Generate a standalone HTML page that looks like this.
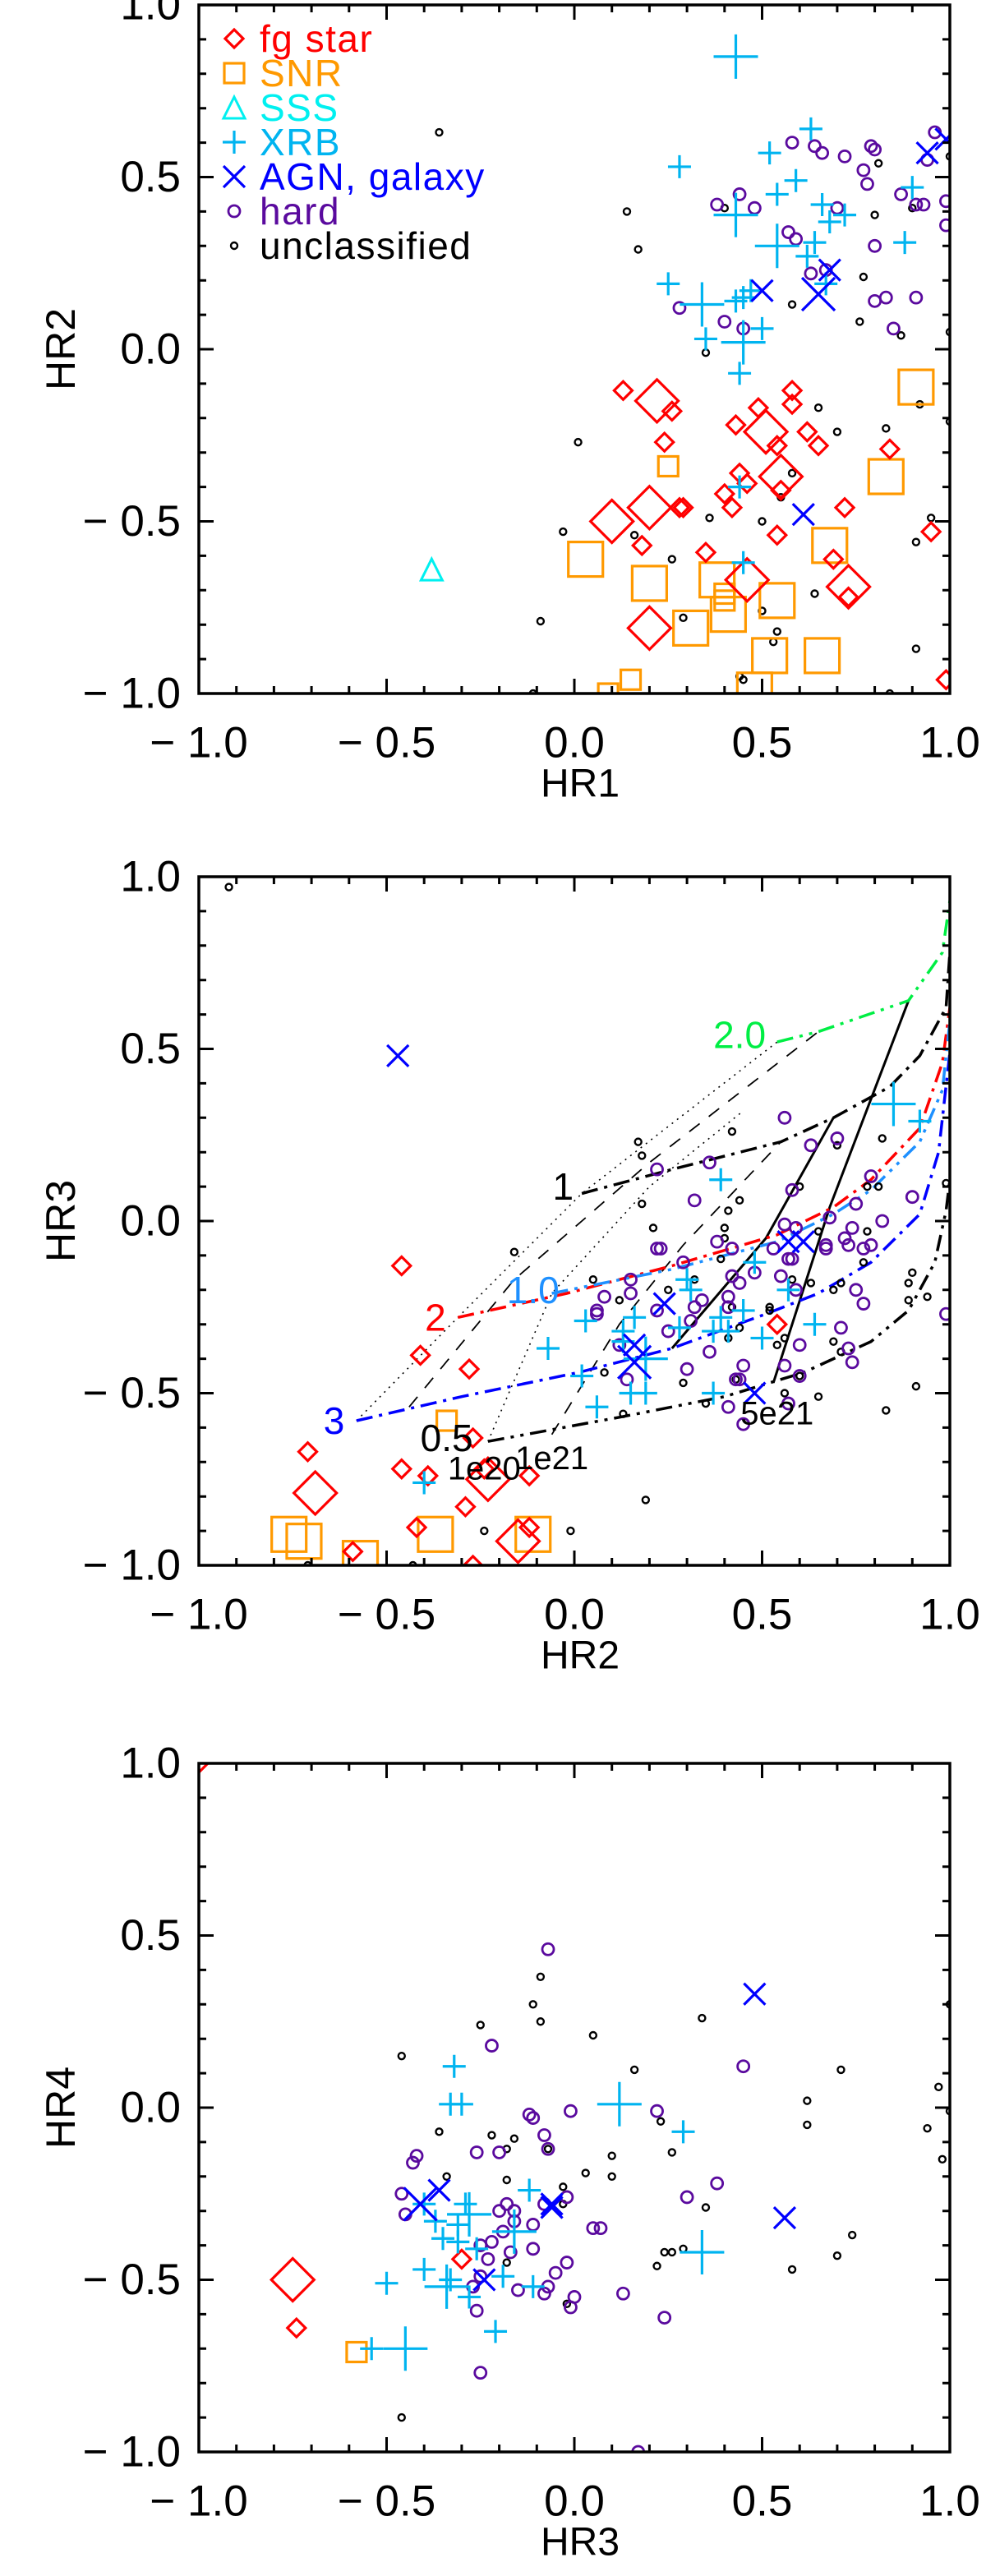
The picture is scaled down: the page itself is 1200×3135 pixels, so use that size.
<!DOCTYPE html>
<html><head><meta charset="utf-8"><title>Hardness ratio diagrams</title>
<style>
html,body{margin:0;padding:0;background:#fff;}
svg{display:block;}
text{font-family:"Liberation Sans",sans-serif;}
</style></head>
<body>
<svg id="fig" width="1200" height="3135" viewBox="0 0 1200 3135" xmlns="http://www.w3.org/2000/svg"></svg>
<script>
// ---------- Panel 1: HR1 vs HR2 ----------
const p1_fg_x=[0.13,0.22,0.26,0.24,0.43,0.49,0.51,0.58,0.58,0.54,0.62,0.65,0.84,0.55,0.44,0.46,0.40,0.55,0.42,0.20,0.28,0.29,0.10,0.72,0.54,0.18,0.35,0.46,0.69,0.73,0.73,0.20,0.95,0.99];
const p1_fg_y=[-0.12,-0.15,-0.18,-0.27,-0.22,-0.17,-0.24,-0.12,-0.16,-0.28,-0.24,-0.28,-0.29,-0.37,-0.36,-0.39,-0.42,-0.41,-0.46,-0.46,-0.46,-0.46,-0.50,-0.46,-0.54,-0.57,-0.59,-0.67,-0.61,-0.69,-0.72,-0.81,-0.53,-0.96];
const p1_fg_big=[0,1,0,0,0,0,1,0,0,0,0,0,0,1,0,0,0,0,0,1,0,0,1,0,0,0,0,1,0,1,0,1,0,0];
const p1_snr_x=[0.91,0.83,0.25,0.03,0.20,0.38,0.40,0.40,0.41,0.31,0.54,0.68,0.52,0.66,0.15,0.09,0.48];
const p1_snr_y=[-0.11,-0.37,-0.34,-0.61,-0.68,-0.67,-0.71,-0.73,-0.77,-0.81,-0.73,-0.57,-0.89,-0.89,-0.96,-1.0,-0.99];
const p1_snr_big=[1,1,0,1,1,1,0,0,1,1,1,1,1,1,0,0,1];
const p1_sss_x=[-0.38];
const p1_sss_y=[-0.64];
const p1_xrb_x=[0.43,0.28,0.63,0.52,0.59,0.54,0.43,0.66,0.68,0.72,0.90,0.88,0.54,0.64,0.62,0.67,0.25,0.34,0.43,0.45,0.47,0.50,0.35,0.45,0.44,0.44,0.45];
const p1_xrb_y=[0.85,0.53,0.64,0.57,0.49,0.45,0.39,0.42,0.37,0.39,0.47,0.31,0.30,0.31,0.27,0.19,0.19,0.13,0.14,0.15,0.17,0.06,0.03,0.02,-0.07,-0.40,-0.62];
const p1_xrb_big=[1,0,0,0,0,0,1,0,0,0,0,0,1,0,0,0,0,1,0,0,0,0,0,1,0,0,0];
const p1_agn_x=[0.50,0.68,0.65,0.94,0.99,0.61];
const p1_agn_y=[0.17,0.23,0.16,0.57,0.61,-0.48];
const p1_agn_big=[0,0,1,0,0,0];
const p1_hard_x=[0.38,0.44,0.48,0.58,0.64,0.66,0.72,0.79,0.80,0.77,0.78,0.87,0.91,0.93,0.96,0.94,0.99,0.99,0.70,0.57,0.59,0.80,0.63,0.67,0.80,0.83,0.91,0.28,0.40,0.45,0.85];
const p1_hard_y=[0.42,0.45,0.41,0.60,0.59,0.57,0.56,0.59,0.58,0.52,0.48,0.45,0.42,0.42,0.63,0.55,0.43,0.36,0.41,0.34,0.32,0.30,0.22,0.23,0.14,0.15,0.15,0.12,0.08,0.06,0.06];
const p1_unc_x=[-0.36,0.14,0.17,0.40,0.58,0.77,0.76,0.87,0.80,0.81,0.90,1.0,1.0,0.35,0.01,0.65,0.70,0.83,0.92,1.0,0.58,0.55,0.36,0.50,-0.03,0.16,0.26,0.91,0.95,0.64,0.50,0.29,-0.09,0.54,0.53,0.91,0.44,0.45,-0.11,0.84];
const p1_unc_y=[0.63,0.40,0.29,0.41,0.13,0.21,0.08,0.04,0.39,0.54,0.41,0.56,0.05,-0.01,-0.27,-0.17,-0.24,-0.23,-0.16,-0.21,-0.36,-0.43,-0.49,-0.50,-0.53,-0.54,-0.61,-0.56,-0.49,-0.71,-0.76,-0.78,-0.79,-0.82,-0.85,-0.87,-0.95,-0.96,-1.0,-1.0];

// ---------- Panel 2: HR2 vs HR3 ----------
const p2_fg_x=[-0.46,-0.41,-0.28,-0.71,-0.69,-0.46,-0.39,-0.27,-0.24,-0.23,-0.12,-0.29,-0.42,-0.12,-0.15,-0.59,-0.27,0.54];
const p2_fg_y=[-0.13,-0.39,-0.43,-0.67,-0.79,-0.72,-0.74,-0.63,-0.72,-0.75,-0.74,-0.83,-0.89,-0.89,-0.93,-0.96,-1.0,-0.30];
const p2_fg_big=[0,0,0,0,1,0,0,0,0,1,0,0,0,0,1,0,0,0];
const p2_snr_x=[-0.34,-0.76,-0.72,-0.57,-0.37,-0.11];
const p2_snr_y=[-0.58,-0.91,-0.93,-0.98,-0.91,-0.91];
const p2_snr_big=[0,1,1,1,1,1];
const p2_xrb_x=[0.85,0.92,0.39,0.48,0.30,0.31,0.57,0.03,0.16,0.13,0.39,0.45,0.41,0.37,0.28,0.50,0.64,-0.07,0.13,0.19,0.02,0.15,0.19,0.06,0.37,-0.40];
const p2_xrb_y=[0.34,0.29,0.12,-0.12,-0.17,-0.20,-0.20,-0.29,-0.28,-0.32,-0.28,-0.26,-0.32,-0.32,-0.31,-0.34,-0.30,-0.37,-0.35,-0.40,-0.45,-0.50,-0.50,-0.54,-0.50,-0.76];
const p2_xrb_big=[1,0,0,0,0,0,0,0,0,0,0,0,0,0,0,0,0,0,0,1,0,0,0,0,0,0];
const p2_agn_x=[-0.47,0.24,0.16,0.16,0.57,0.61,0.48];
const p2_agn_y=[0.48,-0.24,-0.36,-0.41,-0.06,-0.06,-0.50];
const p2_agn_big=[0,0,0,1,0,0,0];
const p2_hard_x=[0.22,0.36,0.56,0.63,0.70,0.32,0.58,0.68,0.75,0.79,0.90,0.82,0.74,0.56,0.59,0.38,0.42,0.22,0.23,0.53,0.67,0.67,0.72,0.73,0.77,0.79,0.57,0.58,0.29,0.48,0.42,0.55,0.44,0.59,0.15,0.15,0.08,0.06,0.06,0.41,0.41,0.34,0.32,0.22,0.31,0.25,0.75,0.77,0.71,0.60,0.73,0.74,0.36,0.30,0.45,0.43,0.44,0.56,0.60,0.12,0.14,0.41,0.45,0.57,0.99];
const p2_hard_y=[0.15,0.17,0.30,0.22,0.24,0.06,0.09,0.01,0.05,0.13,0.07,0.00,-0.02,-0.01,-0.02,-0.06,-0.08,-0.08,-0.08,-0.08,-0.07,-0.08,-0.05,-0.07,-0.08,-0.07,-0.11,-0.11,-0.12,-0.15,-0.16,-0.16,-0.18,-0.20,-0.17,-0.21,-0.22,-0.26,-0.27,-0.22,-0.25,-0.23,-0.25,-0.26,-0.29,-0.32,-0.20,-0.24,-0.31,-0.36,-0.37,-0.41,-0.38,-0.43,-0.42,-0.46,-0.46,-0.42,-0.45,-0.36,-0.46,-0.54,-0.59,-0.53,-0.27];
const p2_unc_x=[-0.92,0.17,0.18,0.18,0.21,-0.16,0.05,0.12,0.25,0.42,0.44,0.41,0.40,0.40,0.39,0.32,0.60,0.65,0.70,0.82,0.78,0.81,0.78,0.77,0.69,0.71,0.63,0.58,0.52,0.52,0.42,0.44,0.41,0.54,0.56,0.69,0.71,0.60,0.56,0.65,0.43,0.35,0.29,0.08,0.13,0.83,0.91,0.89,0.90,0.89,0.94,0.99,0.19,-0.24,-0.01,-0.71,-0.43];
const p2_unc_y=[0.97,0.23,0.19,0.05,-0.02,-0.09,-0.17,-0.23,-0.20,0.26,0.06,0.03,-0.02,-0.05,-0.11,-0.17,0.10,-0.03,0.22,0.24,0.10,0.10,-0.03,-0.12,-0.20,-0.18,-0.18,-0.17,-0.25,-0.26,-0.25,-0.31,-0.34,-0.36,-0.34,-0.35,-0.38,-0.45,-0.50,-0.51,-0.46,-0.53,-0.47,-0.44,-0.56,-0.55,-0.48,-0.18,-0.15,-0.23,-0.22,0.11,-0.81,-0.90,-0.90,-1.0,-1.0];
// model grid curves (HR2, HR3 pairs)
const m_g20_x=[0.54,0.65,0.89,0.98,1.0];
const m_g20_y=[0.52,0.55,0.64,0.78,0.93];
const m_k1_x=[0.02,0.26,0.55,0.69,0.84,0.92,0.99,1.0];
const m_k1_y=[0.08,0.15,0.23,0.30,0.39,0.48,0.62,0.78];
const m_r2_x=[-0.31,-0.02,0.26,0.54,0.69,0.79,0.92,0.98,1.0];
const m_r2_y=[-0.28,-0.21,-0.13,-0.04,0.04,0.12,0.27,0.46,0.62];
const m_b10_x=[-0.06,0.26,0.54,0.69,0.79,0.92,0.98,1.0];
const m_b10_y=[-0.21,-0.14,-0.06,0.02,0.09,0.23,0.38,0.58];
const m_b3_x=[-0.58,-0.30,0.01,0.26,0.51,0.65,0.79,0.92,0.97,1.0];
const m_b3_y=[-0.58,-0.51,-0.44,-0.37,-0.27,-0.21,-0.12,0.02,0.20,0.49];
const m_k05_x=[-0.23,0.12,0.40,0.61,0.79,0.89,0.96,0.99,1.0];
const m_k05_y=[-0.64,-0.57,-0.51,-0.44,-0.35,-0.26,-0.12,0.03,0.12];
const m_nh1_x=[0.26,0.51,0.69];
const m_nh1_y=[-0.37,-0.05,0.30];
const m_nh2_x=[0.53,0.68,0.89];
const m_nh2_y=[-0.47,0.04,0.64];
const m_dot1_x=[-0.58,-0.31,0.02,0.54];
const m_dot1_y=[-0.58,-0.28,0.08,0.52];
const m_dot2_x=[-0.23,-0.06,0.20,0.45];
const m_dot2_y=[-0.64,-0.21,0.10,0.32];
const m_dash1_x=[-0.44,-0.16,0.20,0.65];
const m_dash1_y=[-0.54,-0.17,0.17,0.55];
const m_dash2_x=[-0.06,0.12,0.29,0.55];
const m_dash2_y=[-0.62,-0.30,-0.07,0.23];

// ---------- Panel 3: HR3 vs HR4 ----------
const p3_fg_x=[-0.75,-0.74,-0.30,-1.0];
const p3_fg_y=[-0.50,-0.64,-0.44,1.0];
const p3_fg_big=[1,0,0,0];
const p3_snr_x=[-0.58];
const p3_snr_y=[-0.71];
const p3_snr_big=[0];
const p3_xrb_x=[-0.32,-0.33,-0.30,0.12,0.29,-0.40,-0.29,-0.37,-0.31,-0.28,-0.12,-0.16,-0.35,-0.31,-0.26,-0.40,-0.50,-0.33,-0.34,-0.28,-0.19,-0.11,-0.21,0.34,-0.54,-0.45];
const p3_xrb_y=[0.12,0.01,0.01,0.01,-0.07,-0.28,-0.28,-0.33,-0.34,-0.31,-0.24,-0.36,-0.38,-0.39,-0.41,-0.47,-0.51,-0.50,-0.52,-0.55,-0.49,-0.52,-0.65,-0.42,-0.70,-0.70];
const p3_xrb_big=[0,0,0,1,0,0,0,0,0,1,0,1,0,0,0,0,0,0,1,0,0,0,0,1,0,1];
const p3_agn_x=[0.48,0.56,-0.41,-0.36,-0.06,-0.06,-0.24];
const p3_agn_y=[0.33,-0.32,-0.28,-0.24,-0.29,-0.28,-0.50];
const p3_agn_big=[0,0,1,0,0,0,0];
const p3_hard_x=[-0.07,-0.22,0.45,-0.01,0.22,-0.12,-0.11,-0.08,-0.07,-0.26,-0.20,-0.42,-0.43,-0.46,-0.45,-0.18,-0.20,-0.16,-0.08,-0.02,-0.11,-0.16,0.05,0.07,-0.19,-0.22,-0.25,-0.17,-0.11,-0.23,-0.02,-0.05,-0.25,-0.27,-0.15,-0.08,-0.07,0.00,-0.01,-0.26,0.13,0.24,0.30,0.38,-0.25,0.17];
const p3_hard_y=[0.46,0.18,0.12,-0.01,-0.01,-0.02,-0.03,-0.08,-0.12,-0.13,-0.13,-0.14,-0.16,-0.25,-0.31,-0.28,-0.30,-0.30,-0.28,-0.26,-0.34,-0.33,-0.35,-0.35,-0.36,-0.39,-0.40,-0.42,-0.41,-0.44,-0.45,-0.48,-0.49,-0.52,-0.53,-0.54,-0.52,-0.55,-0.58,-0.59,-0.54,-0.61,-0.26,-0.22,-0.77,-1.0];
const p3_unc_x=[-0.09,-0.11,-0.09,-0.25,0.05,-0.46,0.16,0.34,0.71,0.97,1.0,1.0,0.62,0.62,0.94,0.98,-0.36,-0.22,-0.16,-0.18,-0.07,0.10,0.23,0.26,0.03,0.10,-0.34,-0.18,-0.03,-0.03,0.35,0.74,0.29,0.24,0.26,0.22,0.70,0.58,-0.18,-0.02,-0.46];
const p3_unc_y=[0.38,0.30,0.25,0.24,0.21,0.15,0.11,0.26,0.11,0.06,-0.01,0.30,0.02,-0.05,-0.06,-0.15,-0.07,-0.08,-0.09,-0.12,-0.12,-0.14,-0.04,-0.13,-0.19,-0.20,-0.20,-0.21,-0.23,-0.28,-0.29,-0.37,-0.41,-0.42,-0.42,-0.46,-0.43,-0.47,-0.45,-0.57,-0.90];

// ---------- axis geometry ----------
const NS='http://www.w3.org/2000/svg';
const svg=document.getElementById('fig');
const XL=242, XS=457, XR=XL+2*XS;
function sx(v){return XL+(v+1)*XS;}
const panels=[
  {cy:425,xt:'HR1',yt:'HR2',name:'hr1-hr2'},
  {cy:1486,xt:'HR2',yt:'HR3',name:'hr2-hr3'},
  {cy:2565,xt:'HR3',yt:'HR4',name:'hr3-hr4'}
];
function syF(p){return function(v){return p.cy-419*v;};}
function el(tag,attrs,parent){const e=document.createElementNS(NS,tag);for(const k in attrs)e.setAttribute(k,attrs[k]);(parent||svg).appendChild(e);return e;}
const COL={fg:'#ff0000',snr:'#ff9900',sss:'#00f0f0',xrb:'#00b4f0',agn:'#0000ff',hard:'#5a0a9e',unc:'#000000'};

function drawSym(g,type,cx,cy,big){
  let e;
  if(type==='fg'){const h=big?26:11;e=el('polygon',{points:`${cx},${cy-h} ${cx+h},${cy} ${cx},${cy+h} ${cx-h},${cy}`,fill:'none',stroke:COL.fg,'stroke-width':3.2},g);}
  else if(type==='snr'){const h=big?21:12;e=el('rect',{x:cx-h,y:cy-h,width:2*h,height:2*h,fill:'none',stroke:COL.snr,'stroke-width':3.2},g);}
  else if(type==='sss'){const h=13;e=el('polygon',{points:`${cx},${cy-h} ${cx+h},${cy+h} ${cx-h},${cy+h}`,fill:'none',stroke:COL.sss,'stroke-width':3},g);}
  else if(type==='xrb'){const h=big?27:14;e=el('path',{d:`M${cx-h},${cy}H${cx+h}M${cx},${cy-h}V${cy+h}`,stroke:COL.xrb,'stroke-width':3.2,fill:'none'},g);}
  else if(type==='agn'){const h=big?20:13;e=el('path',{d:`M${cx-h},${cy-h}L${cx+h},${cy+h}M${cx-h},${cy+h}L${cx+h},${cy-h}`,stroke:COL.agn,'stroke-width':3.2,fill:'none'},g);}
  else if(type==='hard'){e=el('circle',{cx:cx,cy:cy,r:7,fill:'none',stroke:COL.hard,'stroke-width':2.8},g);}
  else {e=el('circle',{cx:cx,cy:cy,r:4,fill:'none',stroke:COL.unc,'stroke-width':2.4},g);}
  return e;
}
function series(g,sy,type,xs,ys,bigs){
  for(let i=0;i<xs.length;i++){
    const e=drawSym(g,type,sx(xs[i]),sy(ys[i]),bigs?bigs[i]:0);
    
    
  }
}
function curve(g,sy,xs,ys,color,dash,w,name){
  let d='';for(let i=0;i<xs.length;i++)d+=(i?'L':'M')+sx(xs[i]).toFixed(1)+','+sy(ys[i]).toFixed(1);
  const e=el('path',{d:d,fill:'none',stroke:color,'stroke-width':w,'stroke-dasharray':dash||'none'},g);
  
  
}
function label(g,x,y,txt,color,size,name){
  const t=el('text',{x:x,y:y,fill:color,'font-size':size,'text-anchor':'middle','dominant-baseline':'central'},g);
  t.textContent=txt;
  
  
}
function fmt(v){const s=Math.abs(v).toFixed(1);return v<0?'\u2212 '+s:s;}

panels.forEach(function(p,pi){
  const sy=syF(p);
  const top=p.cy-419, bot=p.cy+419;
  const g=el('g',{});
  
  
  const cp=el('clipPath',{id:'clip'+pi});
  el('rect',{x:XL,y:top,width:XR-XL,height:bot-top},cp);
  const data=el('g',{'clip-path':'url(#clip'+pi+')'},g);
  
  

  if(pi===0){
    series(data,sy,'unc',p1_unc_x,p1_unc_y);
    series(data,sy,'hard',p1_hard_x,p1_hard_y);
    series(data,sy,'snr',p1_snr_x,p1_snr_y,p1_snr_big);
    series(data,sy,'fg',p1_fg_x,p1_fg_y,p1_fg_big);
    series(data,sy,'sss',p1_sss_x,p1_sss_y);
    series(data,sy,'xrb',p1_xrb_x,p1_xrb_y,p1_xrb_big);
    series(data,sy,'agn',p1_agn_x,p1_agn_y,p1_agn_big);
  } else if(pi===1){
    curve(data,sy,m_dot1_x,m_dot1_y,'#000','2 6',1.6,'nh-1e20-line');
    curve(data,sy,m_dot2_x,m_dot2_y,'#000','2 6',1.6,'nh-1e20-line-2');
    curve(data,sy,m_dash1_x,m_dash1_y,'#000','16 14',1.8,'nh-1e21-line');
    curve(data,sy,m_dash2_x,m_dash2_y,'#000','16 14',1.8,'nh-1e21-line-2');
    curve(data,sy,m_nh1_x,m_nh1_y,'#000',null,3,'nh-5e21-line');
    curve(data,sy,m_nh2_x,m_nh2_y,'#000',null,3,'nh-5e21-line-2');
    curve(data,sy,m_g20_x,m_g20_y,'#00ee44','20 8 4 8 4 8',3.5,'model-2.0-curve');
    curve(data,sy,m_k1_x,m_k1_y,'#000','20 8 4 8',3.5,'model-1-curve');
    curve(data,sy,m_r2_x,m_r2_y,'#ff0000','20 8 4 8',3.5,'model-2-curve');
    curve(data,sy,m_b10_x,m_b10_y,'#1e90ff','20 8 4 8 4 8',3.5,'model-1.0-curve');
    curve(data,sy,m_b3_x,m_b3_y,'#0000ff','20 8 4 8',3.5,'model-3-curve');
    curve(data,sy,m_k05_x,m_k05_y,'#000','20 8 4 8 4 8',3.5,'model-0.5-curve');
    series(data,sy,'unc',p2_unc_x,p2_unc_y);
    series(data,sy,'hard',p2_hard_x,p2_hard_y);
    series(data,sy,'snr',p2_snr_x,p2_snr_y,p2_snr_big);
    series(data,sy,'fg',p2_fg_x,p2_fg_y,p2_fg_big);
    series(data,sy,'xrb',p2_xrb_x,p2_xrb_y,p2_xrb_big);
    series(data,sy,'agn',p2_agn_x,p2_agn_y,p2_agn_big);
    label(g,sx(0.44),sy(0.54),'2.0','#00ee44',46,'label-2.0');
    label(g,sx(-0.03),sy(0.10),'1','#000',46,'label-1');
    label(g,sx(-0.37),sy(-0.28),'2','#ff0000',46,'label-2');
    label(g,sx(-0.11),sy(-0.20),'1.0','#1e90ff',46,'label-1.0');
    label(g,sx(-0.64),sy(-0.58),'3','#0000ff',46,'label-3');
    label(g,sx(-0.34),sy(-0.63),'0.5','#000',46,'label-0.5');
    label(g,sx(-0.24),sy(-0.72),'1e20','#000',40,'label-1e20');
    label(g,sx(-0.06),sy(-0.69),'1e21','#000',40,'label-1e21');
    label(g,sx(0.54),sy(-0.56),'5e21','#000',40,'label-5e21');
  } else {
    series(data,sy,'unc',p3_unc_x,p3_unc_y);
    series(data,sy,'hard',p3_hard_x,p3_hard_y);
    series(data,sy,'snr',p3_snr_x,p3_snr_y,p3_snr_big);
    series(data,sy,'fg',p3_fg_x,p3_fg_y,p3_fg_big);
    series(data,sy,'xrb',p3_xrb_x,p3_xrb_y,p3_xrb_big);
    series(data,sy,'agn',p3_agn_x,p3_agn_y,p3_agn_big);
  }

  const fr=el('rect',{x:XL,y:top,width:XR-XL,height:bot-top,fill:'none',stroke:'#000','stroke-width':3.5},g);
  
  
  let d='';
  for(let k=-10;k<=10;k++){
    const v=k/10, L=(k%5===0)?18:9;
    const X=sx(v), Y=sy(v);
    d+=`M${X},${bot}v${-L}M${X},${top}v${L}M${XL},${Y}h${L}M${XR},${Y}h${-L}`;
  }
  const tk=el('path',{d:d,stroke:'#000','stroke-width':3,fill:'none'},g);
  
  
  for(let k=-2;k<=2;k++){
    const v=k/2;
    const t=el('text',{x:sx(v),y:bot+60,'font-size':53,'text-anchor':'middle','dominant-baseline':'central',fill:'#000'},g);
    t.textContent=fmt(v);
    
    
    const u=el('text',{x:220,y:sy(v),'font-size':53,'text-anchor':'end','dominant-baseline':'central',fill:'#000'},g);
    u.textContent=fmt(v);
    
    
  }
  const xt=el('text',{x:706,y:bot+110,'font-size':48,'text-anchor':'middle','dominant-baseline':'central',fill:'#000'},g);
  xt.textContent=p.xt;
  
  
  const yt=el('text',{x:0,y:0,'font-size':50,'text-anchor':'middle','dominant-baseline':'central',fill:'#000',transform:`translate(74,${p.cy}) rotate(-90)`},g);
  yt.textContent=p.yt;
  
  
});

const legNames=['fg star','SNR','SSS','XRB','AGN, galaxy','hard','unclassified'];
const legTypes=['fg','snr','sss','xrb','agn','hard','unc'];
const lg=el('g',{});


for(let i=0;i<legNames.length;i++){
  const yy=47+i*42;
  const s=drawSym(lg,legTypes[i],285,yy,0);
  
  
  const t=el('text',{x:316,y:yy,'font-size':46,fill:COL[legTypes[i]],'dominant-baseline':'central','letter-spacing':1.5},lg);
  t.textContent=legNames[i];
  
  
}
</script>
</body></html>
